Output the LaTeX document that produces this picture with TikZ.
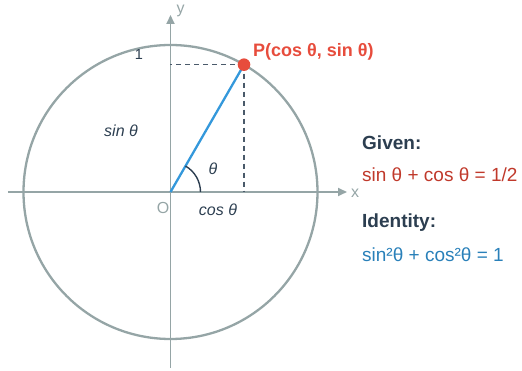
\documentclass[tikz,border=0pt]{standalone}
\usepackage{fontspec}
\setmainfont{Liberation Sans}
\usepackage{tikz}
\usetikzlibrary{arrows.meta,calc}
\definecolor{axisgray}{RGB}{149,165,166}
\definecolor{darktext}{RGB}{44,62,80}
\definecolor{dashgray}{RGB}{74,90,106}
\definecolor{unitblue}{RGB}{52,152,219}
\definecolor{pointred}{RGB}{231,76,60}
\definecolor{givenred}{RGB}{192,57,43}
\definecolor{identblue}{RGB}{41,128,185}

\begin{document}
\begin{tikzpicture}[x=1pt, y=1pt, >={Triangle[length=9pt,width=8pt]},
  axis/.style={draw=axisgray, line width=1.8pt},
  lbl/.style={text=darktext, font=\fontsize{16}{19}\selectfont\itshape},
  info/.style={anchor=west, inner sep=0pt, font=\fontsize{19}{23}\selectfont}]
\useasboundingbox (-170.5,-179) rectangle (351.5,192);

\coordinate (O) at (0,0);
\coordinate (P) at (60:147);
\coordinate (xs) at (-162.5,0);
\coordinate (xe) at (176.5,0);
\coordinate (ys) at (0,-176);
\coordinate (ye) at (0,177);
\coordinate (px) at (P |- O);
\coordinate (py) at (O |- P);

% unit circle and axes
\draw[axisgray, line width=2.3pt] (O) circle[radius=147];
\draw[axis, ->, axisgray] (xs) -- (xe);
\draw[axis, ->, axisgray] (ys) -- (ye);
\node[text=axisgray, font=\fontsize{16}{19}\selectfont] (xlab) at (184.5,-1) {x};
\node[text=axisgray, font=\fontsize{16}{19}\selectfont, inner sep=0pt] (ylab) at (10,181.5) {y};

% projections
\draw[dashgray, line width=1.6pt, dash pattern=on 5pt off 4pt] (P) -- (py);
\draw[dashgray, line width=1.6pt, dash pattern=on 5pt off 4pt] (P) -- (px);

% radius and angle
\draw[unitblue, line width=2.3pt] (O) -- (P);
\draw[darktext, line width=1.4pt] ($(O)+(30,0)$) arc[start angle=0, end angle=60, radius=30];
\fill[pointred] (P) circle[radius=6.3];

\node[lbl] (theta) at (42.5,23) {θ};
\node[lbl] (sinlab) at (-49.5,61) {sin θ};
\node[lbl] (coslab) at (47.5,-18) {cos θ};
\node[text=axisgray, font=\fontsize{16}{19}\selectfont] (olab) at (-7.5,-16) {O};
\node[text=darktext, font=\fontsize{14.5}{17}\selectfont] (one) at (-31.5,137) {1};
\node[anchor=west, inner sep=0pt, text=pointred, font=\fontsize{18}{22}\selectfont\bfseries] (plab) at (82.5,140) {P(cos θ, sin θ)};

% equations
\node[info, text=darktext, font=\fontsize{19}{23}\selectfont\bfseries] (given) at (191.5,49) {Given:};
\node[info, text=givenred] (geq) at (191.5,17) {sin θ + cos θ = 1/2};
\node[info, text=darktext, font=\fontsize{19}{23}\selectfont\bfseries] (ident) at (191.5,-31) {Identity:};
\node[info, text=identblue] (ieq) at (191.5,-63) {sin²θ + cos²θ = 1};
\end{tikzpicture}
\end{document}
